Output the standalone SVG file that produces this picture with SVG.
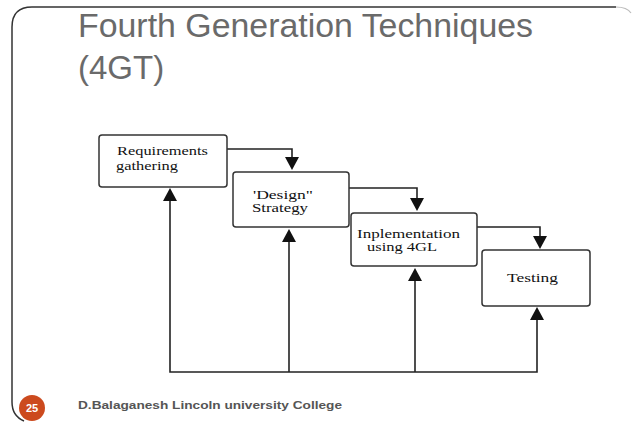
<svg xmlns="http://www.w3.org/2000/svg" width="635" height="423" viewBox="0 0 635 423">
  <style>
    .title { font-family: "Liberation Sans", Arial, sans-serif; font-size: 33px; fill: #6a6a6a; }
    .box { fill: #ffffff; stroke: #333333; stroke-width: 1.5; }
    .label { font-family: "Liberation Serif", "Times New Roman", serif; font-size: 12px; fill: #111111; }
    .wire { fill: none; stroke: #222222; stroke-width: 1.6; }
    .head { fill: #111111; }
    .footer { font-family: "Liberation Sans", Arial, sans-serif; font-size: 11px; font-weight: bold; fill: #555555; }
  </style>

  <rect width="635" height="423" fill="#ffffff"/>

  <!-- slide frame -->
  <path d="M 24,421 Q 12,416 12,402 L 12,27 Q 12,7 32,7 L 616,7" fill="none" stroke="#333333" stroke-width="1.5"/>
  <path d="M 616,7 Q 627,7 631,13" fill="none" stroke="#bbbbbb" stroke-width="1.2"/>

  <!-- heading -->
  <text class="title" x="78" y="37" textLength="455" lengthAdjust="spacingAndGlyphs">Fourth Generation Techniques</text>
  <text class="title" x="78" y="79">(4GT)</text>

  <!-- connectors -->
  <g id="connectors">
    <!-- forward flow -->
    <path class="wire" d="M 227,149 L 292,149 L 292,158"/>
    <polygon class="head" points="285,157 299,157 292,170"/>
    <path class="wire" d="M 349,188 L 417,188 L 417,199"/>
    <polygon class="head" points="410,198 424,198 417,211"/>
    <path class="wire" d="M 477,227 L 540,227 L 540,237"/>
    <polygon class="head" points="533,236 547,236 540,249"/>
    <!-- feedback return -->
    <path class="wire" d="M 170,199 L 170,372 L 537,372 L 537,318"/>
    <path class="wire" d="M 289,240 L 289,372"/>
    <path class="wire" d="M 415,279 L 415,372"/>
    <polygon class="head" points="163,201 177,201 170,188"/>
    <polygon class="head" points="282,242 296,242 289,229"/>
    <polygon class="head" points="408,281 422,281 415,268"/>
    <polygon class="head" points="530,320 544,320 537,307"/>
  </g>

  <g id="requirements">
    <rect class="box" x="99" y="135" width="128" height="52" rx="3"/>
    <text class="label" x="117" y="155" textLength="91" lengthAdjust="spacingAndGlyphs">Requirements</text>
    <text class="label" x="116" y="170" textLength="62" lengthAdjust="spacingAndGlyphs">gathering</text>
  </g>

  <g id="design">
    <rect class="box" x="233" y="172" width="116" height="55" rx="3"/>
    <text class="label" x="253" y="199" textLength="60" lengthAdjust="spacingAndGlyphs">'Design"</text>
    <text class="label" x="252" y="212" textLength="56" lengthAdjust="spacingAndGlyphs">Strategy</text>
  </g>

  <g id="implementation">
    <rect class="box" x="351" y="213" width="126" height="53" rx="3"/>
    <text class="label" x="357" y="238" textLength="103" lengthAdjust="spacingAndGlyphs">Inplementation</text>
    <text class="label" x="367" y="251" textLength="70" lengthAdjust="spacingAndGlyphs">using 4GL</text>
  </g>

  <g id="testing">
    <rect class="box" x="482" y="250" width="108" height="56" rx="3"/>
    <text class="label" x="507" y="282" textLength="51" lengthAdjust="spacingAndGlyphs">Testing</text>
  </g>

  <!-- footer -->
  <circle cx="32" cy="408" r="13" fill="#cc4a1e"/>
  <text x="32" y="412" text-anchor="middle" font-family="Liberation Sans, Arial, sans-serif" font-size="11" font-weight="bold" fill="#ffffff">25</text>
  <text class="footer" x="78" y="409" textLength="264" lengthAdjust="spacingAndGlyphs">D.Balaganesh Lincoln university College</text>
</svg>
